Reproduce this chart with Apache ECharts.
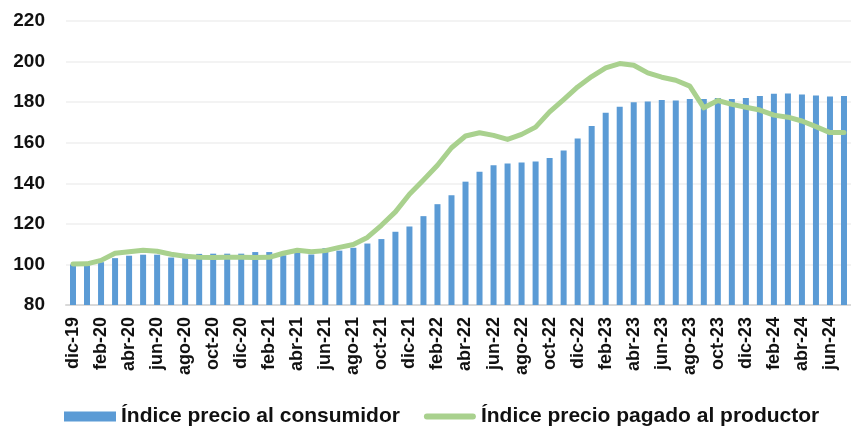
<!DOCTYPE html>
<html>
<head>
<meta charset="utf-8">
<script src="https://cdn.jsdelivr.net/npm/echarts@6/dist/echarts.min.js"></script>
<style>
html,body{margin:0;padding:0;background:#fff;}
#chart{width:851px;height:427px;}
</style>
</head>
<body>
<div id="chart"></div>
<script>
const categories = [
 'dic-19',
 'ene-20','feb-20','mar-20','abr-20','may-20','jun-20','jul-20','ago-20','sep-20','oct-20','nov-20','dic-20',
 'ene-21','feb-21','mar-21','abr-21','may-21','jun-21','jul-21','ago-21','sep-21','oct-21','nov-21','dic-21',
 'ene-22','feb-22','mar-22','abr-22','may-22','jun-22','jul-22','ago-22','sep-22','oct-22','nov-22','dic-22',
 'ene-23','feb-23','mar-23','abr-23','may-23','jun-23','jul-23','ago-23','sep-23','oct-23','nov-23','dic-23',
 'ene-24','feb-24','mar-24','abr-24','may-24','jun-24','jul-24'
];
const ipcConsumidor = [
 100.0,
 99.5,101.1,103.1,104.3,104.8,104.8,103.4,105.2,105.2,105.3,105.3,105.3,
 106.1,106.1,104.5,106.0,104.9,108.0,106.8,108.2,110.3,112.5,116.1,118.7,
 123.8,129.7,134.1,140.8,145.7,148.9,149.8,150.3,150.8,152.5,156.2,162.1,
 168.3,174.8,177.7,180.0,180.3,181.1,180.8,181.5,181.5,182.1,181.6,182.1,
 183.0,184.1,184.3,183.8,183.3,182.8,183.0
];
const ippProductor = [
 100.2,
 100.3,102.0,105.5,106.3,107.0,106.5,105.0,104.0,103.5,103.4,103.5,103.5,
 103.4,103.5,105.5,107.0,106.2,106.8,108.4,109.8,113.3,119.3,125.9,134.6,
 141.6,148.9,157.5,163.3,164.9,163.6,161.6,164.1,167.7,175.2,181.3,187.5,
 192.6,196.9,199.0,198.2,194.4,192.3,190.8,187.9,177.2,180.8,178.9,177.5,
 176.1,173.6,172.6,170.7,167.9,165.0,165.0
];
const yTicks = {min: 80, max: 220, interval: 20};
const seriesNames = ['Índice precio al consumidor', 'Índice precio pagado al productor'];

const font = 'Liberation Sans, Arial, sans-serif';
const chart = echarts.init(document.getElementById('chart'), null, {renderer: 'canvas'});
chart.setOption({
  animation: false,
  backgroundColor: '#ffffff',
  textStyle: {fontFamily: font},
  grid: {left: 66, right: -6, top: 21, bottom: 122, containLabel: false},
  legend: {
    left: 59, top: 401,
    itemWidth: 52, itemHeight: 10, itemGap: 24,
    symbolKeepAspect: true,
    textStyle: {fontFamily: font, fontWeight: 'bold', fontSize: 21, color: '#111'},
    data: [
      {name: seriesNames[0], icon: 'rect'},
      {name: seriesNames[1], icon: 'path://M3,0 H49 A3,3 0 0 1 49,6 H3 A3,3 0 0 1 3,0 Z'}
    ]
  },
  xAxis: {
    type: 'category',
    data: categories,
    boundaryGap: true,
    axisLine: {show: true, lineStyle: {color: '#d9d9d9', width: 2}},
    axisTick: {show: false},
    axisLabel: {
      rotate: 90, interval: 1, margin: 12,
      fontFamily: font, fontWeight: 'bold', fontSize: 18, color: '#111'
    },
    splitLine: {show: false}
  },
  yAxis: {
    type: 'value',
    min: yTicks.min, max: yTicks.max, interval: yTicks.interval,
    axisLine: {show: false},
    axisTick: {show: false},
    axisLabel: {margin: 21, fontFamily: font, fontWeight: 'bold', fontSize: 19, color: '#111'},
    splitLine: {lineStyle: {color: '#efefef', width: 1.5}}
  },
  series: [
    {
      name: seriesNames[0],
      type: 'bar',
      data: ipcConsumidor,
      barWidth: 6,
      itemStyle: {color: '#5b9bd5'}
    },
    {
      name: seriesNames[1],
      type: 'line',
      data: ippProductor,
      symbol: 'none',
      showSymbol: false,
      lineStyle: {color: '#a9d18e', width: 5, cap: 'round', join: 'round'},
      itemStyle: {color: '#a9d18e'}
    }
  ]
});
</script>
</body>
</html>
